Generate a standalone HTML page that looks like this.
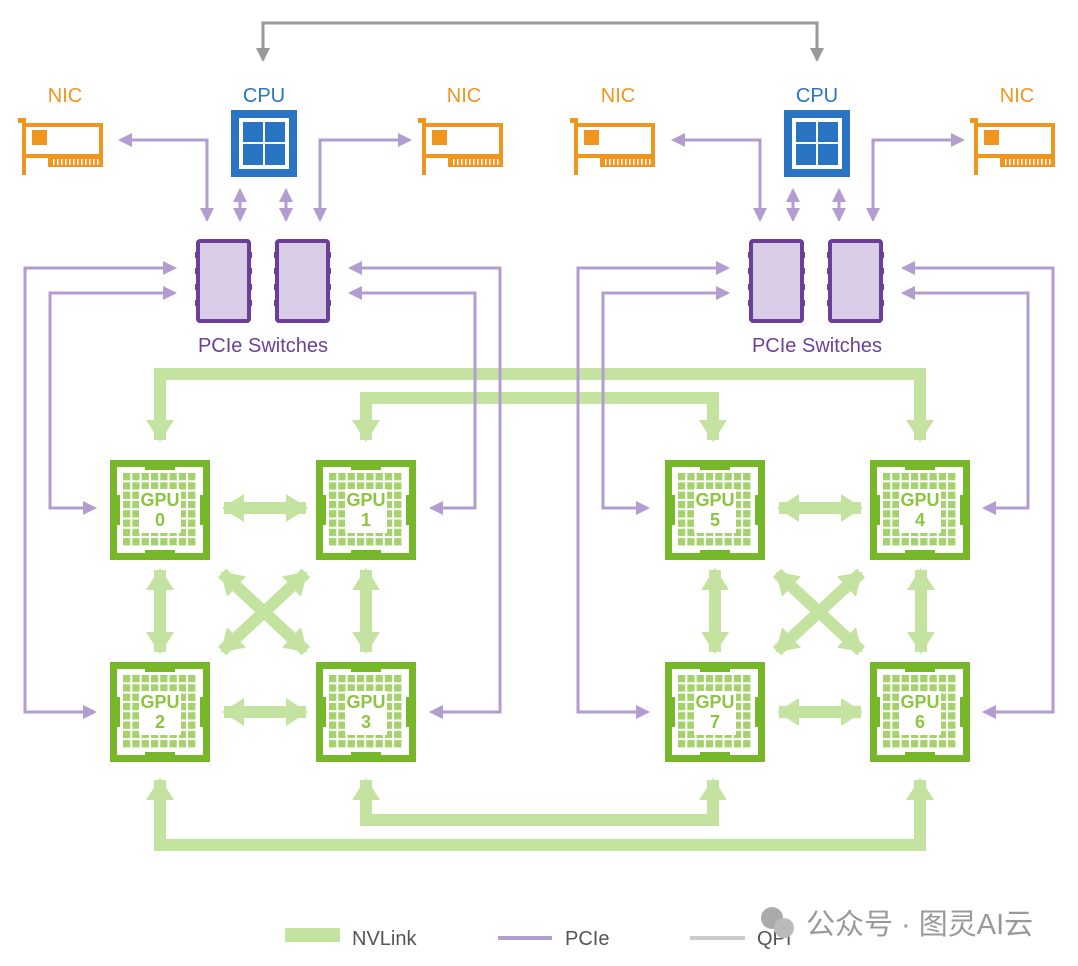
<!DOCTYPE html>
<html><head><meta charset="utf-8"><style>
html,body{margin:0;padding:0;background:#fff;}
svg{display:block;font-family:"Liberation Sans","Noto Sans CJK SC",sans-serif;}
</style></head><body>
<svg width="1078" height="966" viewBox="0 0 1078 966" xmlns="http://www.w3.org/2000/svg">
<defs>
<marker id="pa" markerUnits="userSpaceOnUse" markerWidth="14" markerHeight="14" refX="12" refY="7" orient="auto-start-reverse"><path d="M0,0 L14,7 L0,14 Z" fill="#b39ccf"/></marker>
<marker id="qa" markerUnits="userSpaceOnUse" markerWidth="14" markerHeight="14" refX="12" refY="7" orient="auto-start-reverse"><path d="M0,0 L14,7 L0,14 Z" fill="#999"/></marker>
<marker id="na" markerUnits="userSpaceOnUse" markerWidth="22" markerHeight="28" refX="20" refY="14" orient="auto-start-reverse"><path d="M0,0 L22,14 L0,28 Z" fill="#c5e3a0"/></marker>
<pattern id="grid" x="0" y="0" width="9.3" height="9.3" patternUnits="userSpaceOnUse"><rect width="7.3" height="7.3" fill="#a6d26e"/></pattern>
<g id="gpu">
<rect x="0" y="0" width="100" height="100" fill="#76b82a"/>
<rect x="7" y="7" width="86" height="86" fill="#fff"/>
<rect x="0" y="35" width="10" height="30" fill="#76b82a"/>
<rect x="90" y="35" width="10" height="30" fill="#76b82a"/>
<rect x="35" y="0" width="30" height="10" fill="#76b82a"/>
<rect x="35" y="90" width="30" height="10" fill="#76b82a"/>
<g transform="translate(13,13)"><rect width="74" height="74" fill="url(#grid)"/></g>
<rect x="29" y="29" width="42" height="44" fill="#fff"/>
</g>
<g id="nic">
<rect x="0" y="0" width="8" height="5" fill="#f0951e"/>
<rect x="4" y="0" width="4" height="57" fill="#f0951e"/>
<rect x="6" y="7" width="77" height="31" fill="#fff" stroke="#f0951e" stroke-width="4"/>
<rect x="14" y="12" width="15" height="15" fill="#f0951e"/>
<rect x="30" y="36" width="55" height="13" fill="#f0951e"/>
<g fill="#fff"><rect x="35" y="41" width="1.5" height="6"/><rect x="39" y="41" width="1.5" height="6"/><rect x="43" y="41" width="1.5" height="6"/><rect x="47" y="41" width="1.5" height="6"/><rect x="51" y="41" width="1.5" height="6"/><rect x="55" y="41" width="1.5" height="6"/><rect x="59" y="41" width="1.5" height="6"/><rect x="63" y="41" width="1.5" height="6"/><rect x="67" y="41" width="1.5" height="6"/><rect x="71" y="41" width="1.5" height="6"/><rect x="75" y="41" width="1.5" height="6"/><rect x="79" y="41" width="1.5" height="6"/></g>
</g>
<g id="cpu">
<rect width="66" height="67" fill="#2a74c4"/>
<rect x="8" y="8" width="50" height="51" fill="#fff"/>
<rect x="12" y="12" width="20" height="20" fill="#2a74c4"/><rect x="34" y="12" width="20" height="20" fill="#2a74c4"/>
<rect x="12" y="34" width="20" height="21" fill="#2a74c4"/><rect x="34" y="34" width="20" height="21" fill="#2a74c4"/>
</g>
<g id="sw">
<rect x="3" y="1" width="51" height="80" rx="2" fill="#d9cce6" stroke="#6b3f98" stroke-width="4"/>
<g fill="#6b3f98"><rect x="0" y="12" width="3" height="6"/><rect x="0" y="28" width="3" height="6"/><rect x="0" y="44" width="3" height="6"/><rect x="0" y="60" width="3" height="6"/>
<rect x="54" y="12" width="3" height="6"/><rect x="54" y="28" width="3" height="6"/><rect x="54" y="44" width="3" height="6"/><rect x="54" y="60" width="3" height="6"/></g>
</g>
</defs>

<path d="M263,60 V23 H817 V60" fill="none" stroke="#999" stroke-width="3" marker-start="url(#qa)" marker-end="url(#qa)"/>

<g fill="none" stroke="#c5e3a0" stroke-width="12">
<path d="M160,440 V374 H920 V440" marker-start="url(#na)" marker-end="url(#na)"/>
<path d="M366,440 V398 H713 V440" marker-start="url(#na)" marker-end="url(#na)"/>
<path d="M366,780 V820 H713 V780" marker-start="url(#na)" marker-end="url(#na)"/>
<path d="M160,780 V845 H920 V780" marker-start="url(#na)" marker-end="url(#na)"/>
</g>

<g id="loc" fill="none" stroke="#c5e3a0" stroke-width="12">
<path d="M224,508 H306" marker-start="url(#na)" marker-end="url(#na)"/>
<path d="M224,712 H306" marker-start="url(#na)" marker-end="url(#na)"/>
<path d="M160,570 V652" marker-start="url(#na)" marker-end="url(#na)"/>
<path d="M366,570 V652" marker-start="url(#na)" marker-end="url(#na)"/>
<path d="M222,573 L306,651" marker-start="url(#na)" marker-end="url(#na)"/>
<path d="M306,573 L222,651" marker-start="url(#na)" marker-end="url(#na)"/>
</g>
<use href="#loc" transform="translate(555,0)"/>

<g id="pcie" fill="none" stroke="#b39ccf" stroke-width="3">
<path d="M120,140 H207 V220" marker-start="url(#pa)" marker-end="url(#pa)"/>
<path d="M410,140 H320 V220" marker-start="url(#pa)" marker-end="url(#pa)"/>
<path d="M240,190 V220" marker-start="url(#pa)" marker-end="url(#pa)"/>
<path d="M286,190 V220" marker-start="url(#pa)" marker-end="url(#pa)"/>
<path d="M175,268 H25 V712 H95" marker-start="url(#pa)" marker-end="url(#pa)"/>
<path d="M175,293 H50 V508 H95" marker-start="url(#pa)" marker-end="url(#pa)"/>
<path d="M350,268 H500 V712 H431" marker-start="url(#pa)" marker-end="url(#pa)"/>
<path d="M350,293 H475 V508 H431" marker-start="url(#pa)" marker-end="url(#pa)"/>
</g>
<use href="#pcie" transform="translate(553,0)"/>

<use href="#sw" x="195" y="240"/><use href="#sw" x="274" y="240"/>
<use href="#sw" x="748" y="240"/><use href="#sw" x="827" y="240"/>
<text x="263" y="352" font-size="20" fill="#6b3f98" text-anchor="middle">PCIe Switches</text>
<text x="817" y="352" font-size="20" fill="#6b3f98" text-anchor="middle">PCIe Switches</text>

<use href="#cpu" x="231" y="110"/><use href="#cpu" x="784" y="110"/>
<text x="264" y="102" font-size="20" fill="#2a74c4" text-anchor="middle">CPU</text>
<text x="817" y="102" font-size="20" fill="#2a74c4" text-anchor="middle">CPU</text>
<use href="#nic" x="18" y="118"/><use href="#nic" x="418" y="118"/>
<use href="#nic" x="570" y="118"/><use href="#nic" x="970" y="118"/>
<g font-size="20" fill="#f0951e" text-anchor="middle">
<text x="65" y="102">NIC</text><text x="464" y="102">NIC</text>
<text x="618" y="102">NIC</text><text x="1017" y="102">NIC</text>
</g>

<use href="#gpu" x="110" y="460"/><use href="#gpu" x="316" y="460"/>
<use href="#gpu" x="110" y="662"/><use href="#gpu" x="316" y="662"/>
<use href="#gpu" x="665" y="460"/><use href="#gpu" x="870" y="460"/>
<use href="#gpu" x="665" y="662"/><use href="#gpu" x="870" y="662"/>
<g font-size="18" font-weight="bold" fill="#8cc63f" text-anchor="middle">
<text x="160" y="506">GPU</text><text x="160" y="526">0</text>
<text x="366" y="506">GPU</text><text x="366" y="526">1</text>
<text x="160" y="708">GPU</text><text x="160" y="728">2</text>
<text x="366" y="708">GPU</text><text x="366" y="728">3</text>
<text x="715" y="506">GPU</text><text x="715" y="526">5</text>
<text x="920" y="506">GPU</text><text x="920" y="526">4</text>
<text x="715" y="708">GPU</text><text x="715" y="728">7</text>
<text x="920" y="708">GPU</text><text x="920" y="728">6</text>
</g>

<rect x="285" y="928" width="55" height="14" fill="#c5e3a0"/>
<text x="352" y="945" font-size="20" fill="#555">NVLink</text>
<rect x="498" y="936" width="54" height="4" fill="#b39ccf"/>
<text x="565" y="945" font-size="20" fill="#555">PCIe</text>
<rect x="690" y="936" width="55" height="4" fill="#ccc"/>
<text x="757" y="945" font-size="20" fill="#555">QPI</text>
<circle cx="772" cy="918" r="11" fill="#aaa"/>
<circle cx="784" cy="928" r="10" fill="#bbb"/>
<text x="806" y="934" font-size="29" fill="#999">公众号 · 图灵AI云</text>
</svg>
</body></html>
